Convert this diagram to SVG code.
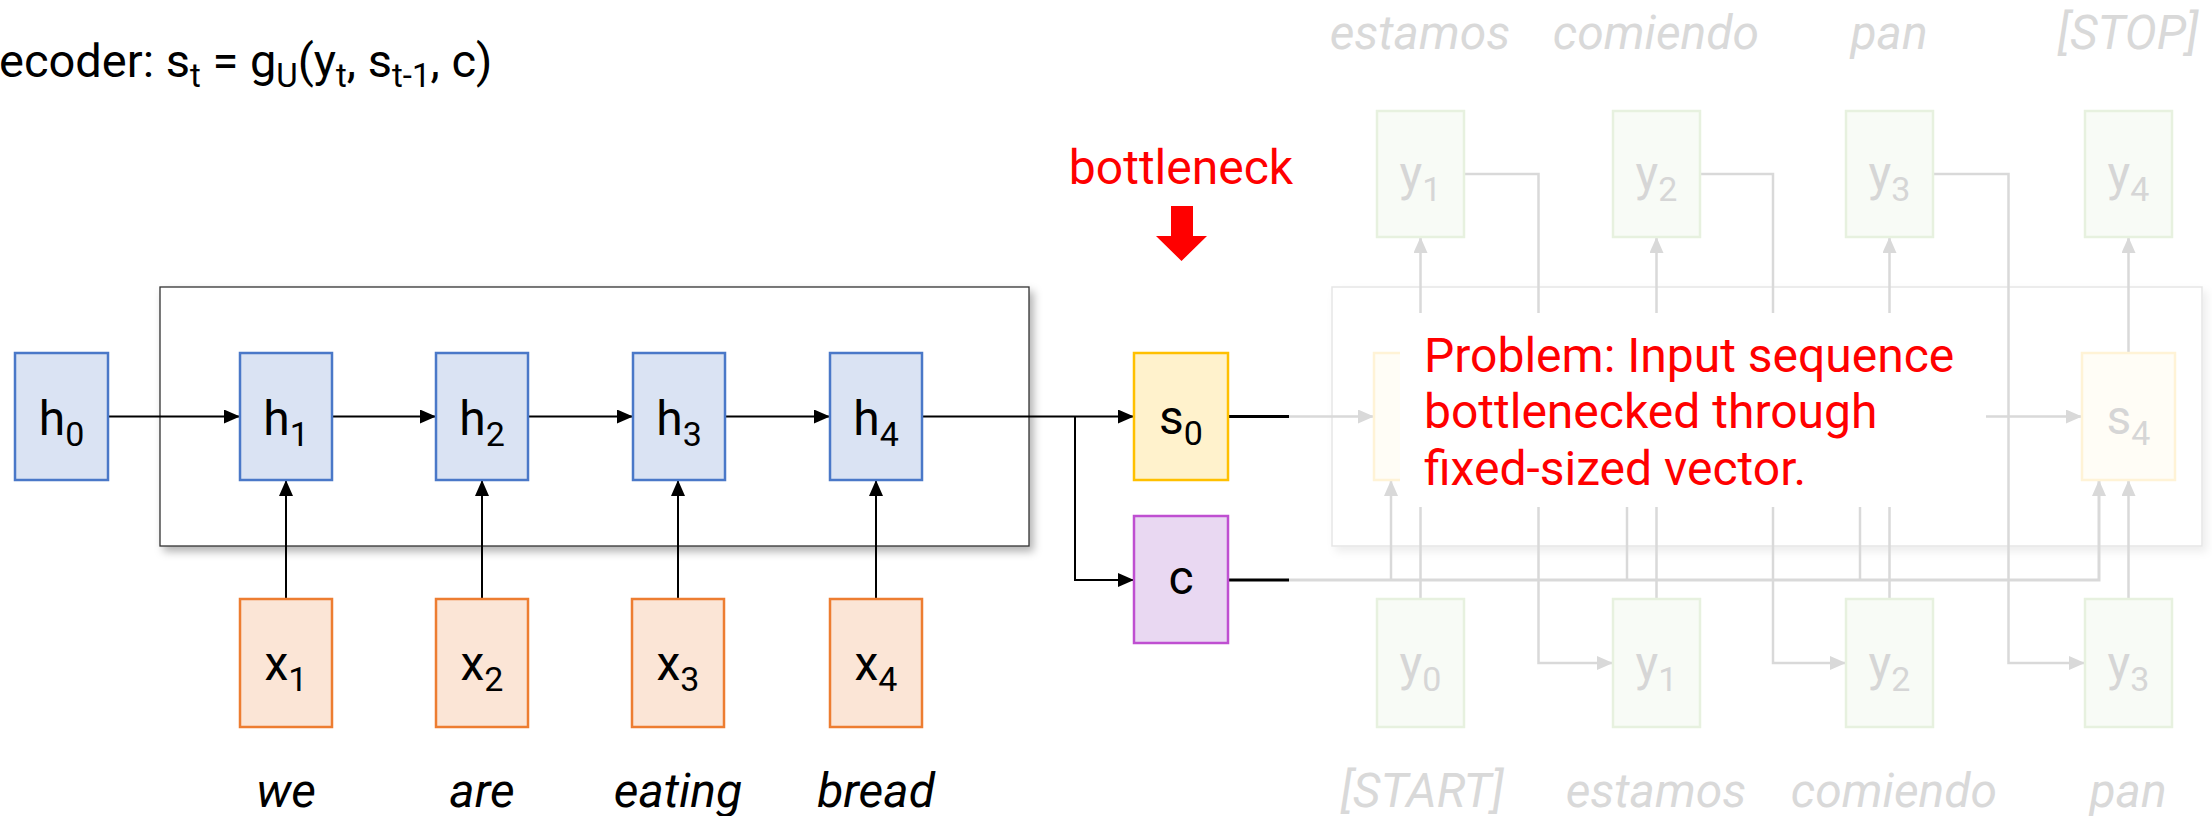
<svg xmlns="http://www.w3.org/2000/svg" width="2212" height="816" viewBox="0 0 2212 816">
<style>
text{font-family:Roboto,"Liberation Sans",sans-serif;}
.lbl{font-size:48px;fill:#000;text-anchor:middle;}
.glbl{font-size:48px;fill:#d6d6d6;text-anchor:middle;}
.sub{font-size:34px;}
.title{font-size:47px;fill:#000;}
.tsub{font-size:33px;}
.word{font-size:48px;font-style:italic;fill:#000;text-anchor:middle;}
.gword{font-size:48px;font-style:italic;fill:#d9d9d9;text-anchor:middle;}
.red{fill:#ff0000;font-size:48px;}
.hbox{fill:#dae3f3;stroke:#4a78c8;stroke-width:2.5;}
.xbox{fill:#fbe5d6;stroke:#ed7d31;stroke-width:2.5;}
.sbox{fill:#fff2cc;stroke:#ffc000;stroke-width:2.5;}
.cbox{fill:#e9d8f2;stroke:#bf4fd1;stroke-width:2.5;}
.gsbox{fill:#fffdf6;stroke:#fff3d6;stroke-width:2.5;}
.gybox{fill:#f8fbf6;stroke:#e7f1df;stroke-width:2.5;}
.blk{fill:none;stroke:#000;stroke-width:2;}
.blkt{fill:none;stroke:#000;stroke-width:3;}
.gry{fill:none;stroke:#d9d9d9;stroke-width:2.5;}
.gryt{fill:none;stroke:#d9d9d9;stroke-width:3;}
</style>
<defs>
<marker id="ab" viewBox="0 0 16 14" refX="16" refY="7" markerWidth="16" markerHeight="14" markerUnits="userSpaceOnUse" orient="auto"><path d="M0,0 L16,7 L0,14 z" fill="#000"/></marker>
<marker id="ag" viewBox="0 0 16 14" refX="16" refY="7" markerWidth="16" markerHeight="14" markerUnits="userSpaceOnUse" orient="auto"><path d="M0,0 L16,7 L0,14 z" fill="#d9d9d9"/></marker>
<filter id="sh" x="-5%" y="-10%" width="112%" height="125%"><feDropShadow dx="4" dy="5" stdDeviation="4" flood-color="#000" flood-opacity="0.3"/></filter>
<filter id="shl" x="-5%" y="-10%" width="112%" height="125%"><feDropShadow dx="4" dy="5" stdDeviation="4" flood-color="#000" flood-opacity="0.07"/></filter>
</defs>
<rect width="2212" height="816" fill="#fff"/>

<!-- title -->
<text class="title" x="-1" y="77">ecoder: s<tspan class="tsub" dy="10">t</tspan><tspan dy="-10"> = g</tspan><tspan class="tsub" dy="10">U</tspan><tspan dy="-10">(y</tspan><tspan class="tsub" dy="10">t</tspan><tspan dy="-10">, s</tspan><tspan class="tsub" dy="10">t-1</tspan><tspan dy="-10">, c)</tspan></text>

<!-- frames -->
<g id="encoder-frame"><rect x="160" y="287" width="869" height="259" fill="#fff" stroke="#333" stroke-width="1.3" filter="url(#sh)"/></g>
<g id="decoder-frame"><rect x="1332" y="287" width="870" height="259" fill="#fff" stroke="#e6e6e6" stroke-width="1.5" filter="url(#shl)"/></g>

<!-- connectors -->
<g id="connectors">
<line class="blk" x1="108" y1="416.5" x2="240" y2="416.5" marker-end="url(#ab)"/>
<line class="blk" x1="332" y1="416.5" x2="436" y2="416.5" marker-end="url(#ab)"/>
<line class="blk" x1="528" y1="416.5" x2="633" y2="416.5" marker-end="url(#ab)"/>
<line class="blk" x1="725" y1="416.5" x2="830" y2="416.5" marker-end="url(#ab)"/>
<line class="blk" x1="922" y1="416.5" x2="1134" y2="416.5" marker-end="url(#ab)"/>
<polyline class="blk" points="1075,416.5 1075,580 1134,580" marker-end="url(#ab)"/>
<line class="blk" x1="286" y1="599" x2="286" y2="480" marker-end="url(#ab)"/>
<line class="blk" x1="482" y1="599" x2="482" y2="480" marker-end="url(#ab)"/>
<line class="blk" x1="678" y1="599" x2="678" y2="480" marker-end="url(#ab)"/>
<line class="blk" x1="876" y1="599" x2="876" y2="480" marker-end="url(#ab)"/>

<!-- decoder (faded) -->
<line class="gry" x1="1289" y1="416.5" x2="1374" y2="416.5" marker-end="url(#ag)"/>
<line class="gry" x1="1936" y1="416.5" x2="2082" y2="416.5" marker-end="url(#ag)"/>
<polyline class="gryt" points="1289,580 2099,580 2099,480" marker-end="url(#ag)"/>
<line class="gry" x1="1391" y1="580" x2="1391" y2="480" marker-end="url(#ag)"/>
<line class="gry" x1="1627" y1="580" x2="1627" y2="480" marker-end="url(#ag)"/>
<line class="gry" x1="1860" y1="580" x2="1860" y2="480" marker-end="url(#ag)"/>
<line class="gry" x1="1420.5" y1="599" x2="1420.5" y2="480" marker-end="url(#ag)"/>
<line class="gry" x1="1656.5" y1="599" x2="1656.5" y2="480" marker-end="url(#ag)"/>
<line class="gry" x1="1889.5" y1="599" x2="1889.5" y2="480" marker-end="url(#ag)"/>
<line class="gry" x1="2128.5" y1="599" x2="2128.5" y2="480" marker-end="url(#ag)"/>
<line class="gry" x1="1420.5" y1="353" x2="1420.5" y2="237" marker-end="url(#ag)"/>
<line class="gry" x1="1656.5" y1="353" x2="1656.5" y2="237" marker-end="url(#ag)"/>
<line class="gry" x1="1889.5" y1="353" x2="1889.5" y2="237" marker-end="url(#ag)"/>
<line class="gry" x1="2128.5" y1="353" x2="2128.5" y2="237" marker-end="url(#ag)"/>
<polyline class="gry" points="1464,174 1538.5,174 1538.5,663 1613,663" marker-end="url(#ag)"/>
<polyline class="gry" points="1700,174 1773,174 1773,663 1846,663" marker-end="url(#ag)"/>
<polyline class="gry" points="1933,174 2008.5,174 2008.5,663 2085,663" marker-end="url(#ag)"/>

<line class="blkt" x1="1228" y1="416.5" x2="1289" y2="416.5"/>
<line class="blkt" x1="1228" y1="580" x2="1289" y2="580"/>
</g>

<!-- encoder nodes -->
<g id="h0"><rect class="hbox" x="15" y="353" width="93" height="127"/><text class="lbl" x="61.5" y="435">h<tspan class="sub" dy="11">0</tspan></text></g>
<g id="h1"><rect class="hbox" x="240" y="353" width="92" height="127"/><text class="lbl" x="286" y="435">h<tspan class="sub" dy="11">1</tspan></text></g>
<g id="h2"><rect class="hbox" x="436" y="353" width="92" height="127"/><text class="lbl" x="482" y="435">h<tspan class="sub" dy="11">2</tspan></text></g>
<g id="h3"><rect class="hbox" x="633" y="353" width="92" height="127"/><text class="lbl" x="679" y="435">h<tspan class="sub" dy="11">3</tspan></text></g>
<g id="h4"><rect class="hbox" x="830" y="353" width="92" height="127"/><text class="lbl" x="876" y="435">h<tspan class="sub" dy="11">4</tspan></text></g>

<g id="x1"><rect class="xbox" x="240" y="599" width="92" height="128"/><text class="lbl" x="286" y="680">x<tspan class="sub" dy="11">1</tspan></text></g>
<g id="x2"><rect class="xbox" x="436" y="599" width="92" height="128"/><text class="lbl" x="482" y="680">x<tspan class="sub" dy="11">2</tspan></text></g>
<g id="x3"><rect class="xbox" x="632" y="599" width="92" height="128"/><text class="lbl" x="678" y="680">x<tspan class="sub" dy="11">3</tspan></text></g>
<g id="x4"><rect class="xbox" x="830" y="599" width="92" height="128"/><text class="lbl" x="876" y="680">x<tspan class="sub" dy="11">4</tspan></text></g>

<g id="words">
<text class="word" x="286" y="807">we</text>
<text class="word" x="482" y="807">are</text>
<text class="word" x="678" y="807">eating</text>
<text class="word" x="876" y="807">bread</text>
</g>

<g id="s0"><rect class="sbox" x="1134" y="353" width="94" height="127"/><text class="lbl" x="1181" y="434">s<tspan class="sub" dy="11">0</tspan></text></g>
<g id="c"><rect class="cbox" x="1134" y="516" width="94" height="127"/><text class="lbl" x="1181" y="594">c</text></g>

<g id="bottleneck">
<text class="red" x="1181" y="184" text-anchor="middle" font-size="46">bottleneck</text>
<polygon points="1171,206 1193,206 1193,236 1207,236 1181.5,261 1156,236 1171,236" fill="#ff0000"/>
</g>

<!-- decoder nodes (faded) -->
<g id="s1"><rect class="gsbox" x="1374" y="353" width="93" height="127"/></g>
<g id="s4"><rect class="gsbox" x="2082" y="353" width="93" height="127"/><text class="glbl" x="2128.5" y="434">s<tspan class="sub" dy="11">4</tspan></text></g>

<g id="y1-out"><rect class="gybox" x="1377" y="111" width="87" height="126"/><text class="glbl" x="1420.5" y="190">y<tspan class="sub" dy="11">1</tspan></text></g>
<g id="y2-out"><rect class="gybox" x="1613" y="111" width="87" height="126"/><text class="glbl" x="1656.5" y="190">y<tspan class="sub" dy="11">2</tspan></text></g>
<g id="y3-out"><rect class="gybox" x="1846" y="111" width="87" height="126"/><text class="glbl" x="1889.5" y="190">y<tspan class="sub" dy="11">3</tspan></text></g>
<g id="y4-out"><rect class="gybox" x="2085" y="111" width="87" height="126"/><text class="glbl" x="2128.5" y="190">y<tspan class="sub" dy="11">4</tspan></text></g>

<g id="y0-in"><rect class="gybox" x="1377" y="599" width="87" height="128"/><text class="glbl" x="1420.5" y="680">y<tspan class="sub" dy="11">0</tspan></text></g>
<g id="y1-in"><rect class="gybox" x="1613" y="599" width="87" height="128"/><text class="glbl" x="1656.5" y="680">y<tspan class="sub" dy="11">1</tspan></text></g>
<g id="y2-in"><rect class="gybox" x="1846" y="599" width="87" height="128"/><text class="glbl" x="1889.5" y="680">y<tspan class="sub" dy="11">2</tspan></text></g>
<g id="y3-in"><rect class="gybox" x="2085" y="599" width="87" height="128"/><text class="glbl" x="2128.5" y="680">y<tspan class="sub" dy="11">3</tspan></text></g>

<g id="out-words">
<text class="gword" x="1420" y="49">estamos</text>
<text class="gword" x="1656" y="49">comiendo</text>
<text class="gword" x="1889" y="49">pan</text>
<text class="gword" x="2128" y="49">[STOP]</text>
</g>
<g id="in-words">
<text class="gword" x="1422" y="807">[START]</text>
<text class="gword" x="1656" y="807">estamos</text>
<text class="gword" x="1894" y="807">comiendo</text>
<text class="gword" x="2128" y="807">pan</text>
</g>

<g id="problem">
<rect x="1400" y="313" width="586" height="194" fill="#fff"/>
<text class="red" x="1424" y="372">Problem: Input sequence</text>
<text class="red" x="1424" y="428">bottlenecked through</text>
<text class="red" x="1424" y="485">fixed-sized vector.</text>
</g>
</svg>
